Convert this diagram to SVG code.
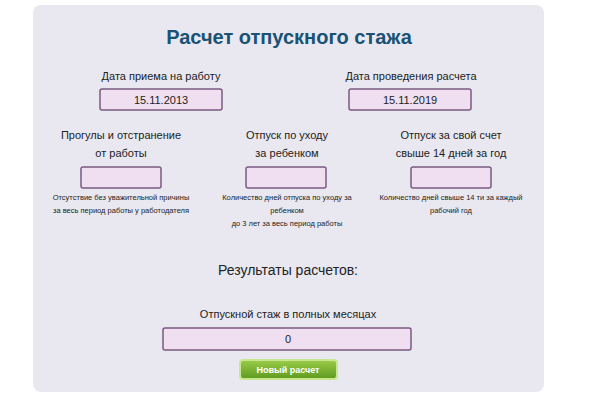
<svg xmlns="http://www.w3.org/2000/svg" width="600" height="400" viewBox="0 0 600 400">
<style>
text{font-family:"Liberation Sans",Arial,sans-serif;fill:#222;text-anchor:middle}
.l{font-size:11px}
.n{font-size:7.5px}
.box{fill:#f0dff0;stroke:#7a5a80;stroke-width:1.5}
</style>
<defs><linearGradient id="g" x1="0" y1="0" x2="0" y2="1"><stop offset="0" stop-color="#9ccc4a"/><stop offset="1" stop-color="#5e9a1e"/></linearGradient></defs>
<rect width="600" height="400" fill="#fff"/>
<rect x="33" y="5" width="511" height="387" rx="8" fill="#e9e8f0"/>
<text x="289" y="44" style="font-size:20px;fill:#1a5274;font-weight:bold">Расчет отпускного стажа</text>
<g id="start"><text class="l" x="161" y="80">Дата приема на работу</text><rect class="box" x="100" y="89" width="122" height="21" rx="2"/><text class="l" x="161" y="104">15.11.2013</text></g>
<g id="end"><text class="l" x="411" y="80">Дата проведения расчета</text><rect class="box" x="349" y="89" width="122" height="21" rx="2"/><text class="l" x="410" y="104">15.11.2019</text></g>
<g id="absence"><text class="l" x="121" y="139">Прогулы и отстранение</text><text class="l" x="121" y="157">от работы</text><rect class="box" x="81" y="167" width="80" height="21" rx="2"/><text class="n" x="121" y="200">Отсутствие без уважительной причины</text><text class="n" x="121" y="213">за весь период работы у работодателя</text></g>
<g id="childcare"><text class="l" x="287" y="139">Отпуск по уходу</text><text class="l" x="287" y="157">за ребенком</text><rect class="box" x="246" y="167" width="80" height="21" rx="2"/><text class="n" x="287" y="200">Количество дней отпуска по уходу за</text><text class="n" x="287" y="213">ребенком</text><text class="n" x="287" y="226">до 3 лет за весь период работы</text></g>
<g id="unpaid"><text class="l" x="451" y="139">Отпуск за свой счет</text><text class="l" x="451" y="157">свыше 14 дней за год</text><rect class="box" x="411" y="167" width="80" height="21" rx="2"/><text class="n" x="451" y="200">Количество дней свыше 14 ти за каждый</text><text class="n" x="451" y="213">рабочий год</text></g>
<g id="result"><text x="288" y="275" style="font-size:14px">Результаты расчетов:</text><text class="l" x="288" y="318">Отпускной стаж в полных месяцах</text><rect class="box" x="163" y="328" width="248" height="22" rx="2"/><text class="l" x="288" y="343">0</text></g>
<g id="button"><rect x="240" y="360" width="97" height="19" rx="3" fill="url(#g)" stroke="#c8e890" stroke-width="2"/><text x="288" y="373" style="font-size:9px;font-weight:bold;fill:#fff">Новый расчет</text></g>
<g id="connectors"/>
</svg>
